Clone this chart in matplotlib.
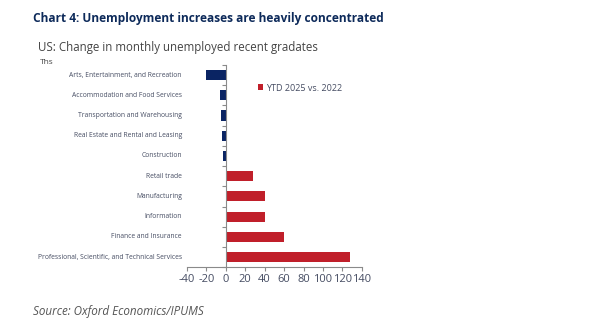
import matplotlib
matplotlib.use("Agg")
import matplotlib.pyplot as plt
from matplotlib.patches import Patch
import numpy as np

categories = [
    "Arts, Entertainment, and Recreation",
    "Accommodation and Food Services",
    "Transportation and Warehousing",
    "Real Estate and Rental and Leasing",
    "Construction",
    "Retail trade",
    "Manufacturing",
    "Information",
    "Finance and Insurance",
    "Professional, Scientific, and Technical Services",
]
values = [-20, -6, -5, -4, -3, 28, 40, 40.5, 60, 128]
x_ticks = [-40, -20, 0, 20, 40, 60, 80, 100, 120, 140]
series_label = "YTD 2025 vs. 2022"

NAVY = "#0a2463"
RED = "#c01f2a"
TEXT = "#454c62"
AXIS = "#8a8a8a"

plt.rcParams["font.family"] = ["Open Sans", "DejaVu Sans"]

fig = plt.figure(figsize=(6.05, 3.25), dpi=100)
ax = fig.add_axes([0.309, 0.178, 0.289, 0.622])

y = np.arange(len(categories))
colors = [NAVY if v < 0 else RED for v in values]
ax.barh(y, values, height=0.5, color=colors, zorder=2)

ax.set_ylim(len(categories) - 0.5, -0.5)
ax.set_xlim(-40, 140)
ax.set_xticks(x_ticks)
ax.set_xticklabels([str(t) for t in x_ticks], fontsize=8, color=TEXT)

# y axis: only boundary ticks on the zero line, category names drawn at left
ax.set_yticks(np.arange(-0.5, len(categories), 1.0))
ax.set_yticklabels([])
ax.tick_params(axis="y", length=3, direction="out", color=AXIS)
ax.tick_params(axis="x", length=3, direction="out", color=AXIS, pad=2)

for yi, name in zip(y, categories):
    ax.text(-0.029, yi, name, transform=ax.get_yaxis_transform(),
            ha="right", va="center", fontsize=4.9, color=TEXT)

for side in ["top", "right"]:
    ax.spines[side].set_visible(False)
ax.spines["left"].set_position(("data", 0))
for side in ["left", "bottom"]:
    ax.spines[side].set_color(AXIS)
    ax.spines[side].set_linewidth(0.8)

handles = [Patch(facecolor=RED, edgecolor="none", label=series_label)]
ax.legend(handles=handles, loc="center left", bbox_to_anchor=(0.405, 0.886),
          frameon=False, fontsize=6.5, handlelength=0.6, handleheight=0.6,
          handletextpad=0.3, labelcolor=TEXT, borderaxespad=0, borderpad=0)

fig.text(0.055, 0.943, "Chart 4: Unemployment increases are heavily concentrated",
         fontsize=8.6, fontweight="bold", color="#0d2a5a", va="center")
fig.text(0.063, 0.855, "US: Change in monthly unemployed recent gradates",
         fontsize=8.3, color="#444444", va="center")
fig.text(0.066, 0.808, "Ths", fontsize=6, color="#444444", va="center")
fig.text(0.055, 0.043, "Source: Oxford Economics/IPUMS", fontsize=8.4,
         style="italic", color="#555555", va="center")

fig.savefig("out.png", dpi=100)
